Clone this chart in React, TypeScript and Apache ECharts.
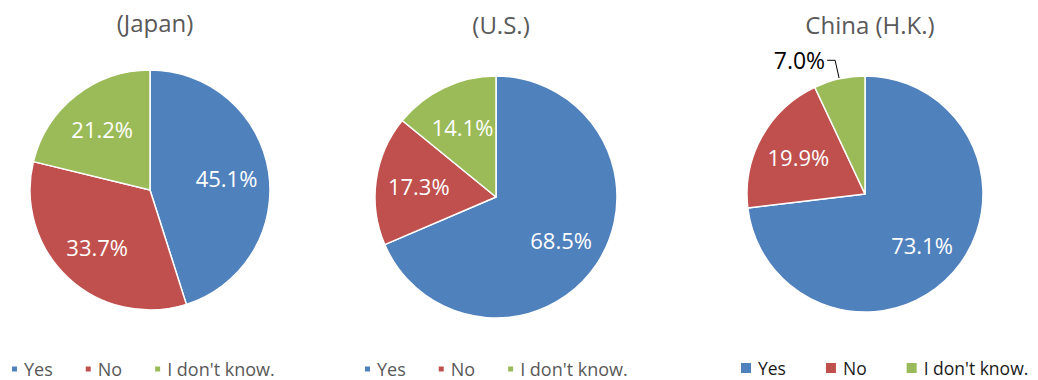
import React, { useEffect, useRef } from "react";
import * as echarts from "echarts";

const categories = ["Yes", "No", "I don't know."];
const countries = ["(Japan)", "(U.S.)", "China (H.K.)"];
const japanValues = [45.1, 33.7, 21.2];
const usValues = [68.5, 17.3, 14.1];
const hkValues = [73.1, 19.9, 7.0];
const colors = ["#4F81BD", "#C0504D", "#9BBB59"];

const FONT = "'Open Sans', 'Noto Sans', sans-serif";

const layouts = [
  { cx: 150, cy: 190, r: 120, titleTop: 5, legendLeft: 10, legendTop: 360, icon: 7, legendColor: "#595959", gap: 31, lf: 18 },
  { cx: 496, cy: 197, r: 121, titleTop: 7, legendLeft: 363, legendTop: 360, icon: 7, legendColor: "#595959", gap: 31, lf: 18 },
  { cx: 865, cy: 194, r: 118, titleTop: 7, legendLeft: 739, legendTop: 359, icon: 12, legendColor: "#1a1a1a", gap: 38, lf: 17.5 },
];

const valueSets = [japanValues, usValues, hkValues];

export default function App() {
  const ref = useRef<HTMLDivElement>(null);
  useEffect(() => {
    document.body.style.margin = "0";
    if (!ref.current) return;
    const chart = echarts.init(ref.current, undefined, { renderer: "svg" });
    const series: any[] = [];
    const titles: any[] = [];
    const legends: any[] = [];
    layouts.forEach((L, i) => {
      const vals = valueSets[i];
      series.push({
        type: "pie",
        center: [L.cx, L.cy],
        radius: L.r,
        startAngle: 90,
        clockwise: true,
        label: { show: false },
        labelLine: { show: false },
        itemStyle: { borderColor: "#ffffff", borderWidth: 1.5 },
        emphasis: { disabled: true },
        data: categories.map((c, k) => ({ name: c, value: vals[k], itemStyle: { color: colors[k] } })),
      });
      series.push({
        type: "pie",
        center: [L.cx, L.cy],
        radius: [L.r * 0.24, L.r],
        startAngle: 90,
        clockwise: true,
        silent: true,
        emphasis: { disabled: true },
        itemStyle: { color: "rgba(0,0,0,0)" },
        label: {
          show: true,
          position: "inside",
          color: "#ffffff",
          fontFamily: FONT,
          fontSize: 22,
          formatter: (p: any) => p.value.toFixed(1) + "%",
        },
        data: categories.map((c, k) => {
          const d: any = { name: c, value: vals[k], itemStyle: { color: "rgba(0,0,0,0)" } };
          if (i === 2 && k === 2) {
            d.label = { position: "outside", color: "#000000", fontSize: 23, distanceToLabelLine: 2 };
            d.labelLine = { show: true, length: 19, length2: 8, lineStyle: { color: "#000000", width: 1 } };
          }
          return d;
        }),
      });
      titles.push({
        text: countries[i],
        left: L.cx,
        top: L.titleTop,
        textAlign: "center",
        textStyle: { color: "#595959", fontFamily: FONT, fontSize: 24, fontWeight: "normal" },
      });
      legends.push({
        data: categories,
        left: L.legendLeft,
        top: L.legendTop,
        padding: 0,
        orient: "horizontal",
        icon: "rect",
        itemWidth: L.icon,
        itemHeight: L.icon,
        itemGap: L.gap,
        selectedMode: false,
        textStyle: { color: L.legendColor, fontFamily: FONT, fontSize: L.lf, padding: [0, 0, 0, 1] },
      });
    });
    chart.setOption({
      animation: false,
      backgroundColor: "#ffffff",
      color: colors,
      title: titles,
      legend: legends,
      series,
    });
    return () => chart.dispose();
  }, []);
  return <div ref={ref} style={{ width: 1038, height: 380 }} />;
}
